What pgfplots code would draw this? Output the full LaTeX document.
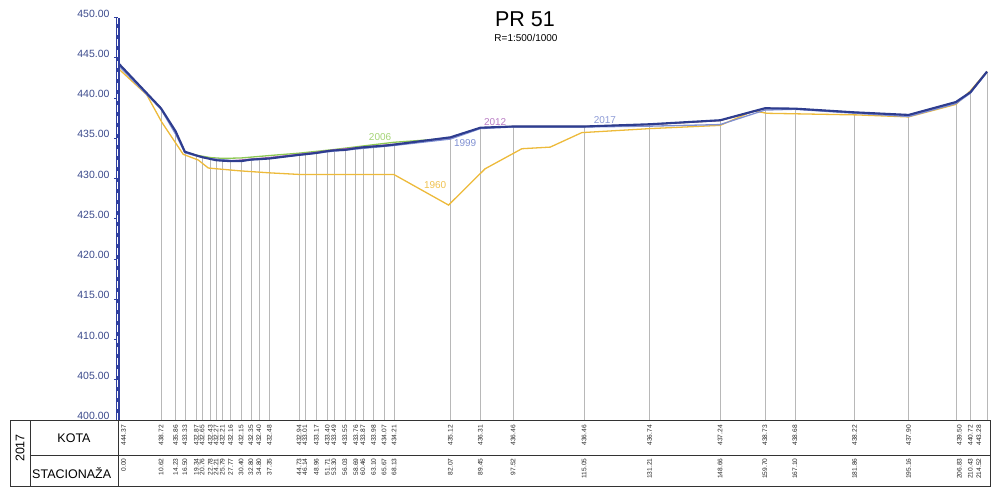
\documentclass[border=0pt]{standalone}
\usepackage{fontspec}
\setmainfont{Liberation Sans}
\usepackage{pgfplots}
\pgfplotsset{compat=1.18}
\usepackage{pgfplotstable}

\definecolor{navy17}{HTML}{2E3D8F}
\definecolor{blue99}{HTML}{8090D2}
\definecolor{purple12}{HTML}{A85CB5}
\definecolor{green06}{HTML}{8DC853}
\definecolor{yellow60}{HTML}{EDBA3A}
\definecolor{axblue}{HTML}{2F3FA0}
\definecolor{ticktext}{HTML}{3B4A8C}

% 2017 survey: station / elevation / label position
\pgfplotstableread{
sta kota lx
0.00 444.37 1.4
10.62 438.72 10.62
14.23 435.86 14.23
16.50 433.33 16.50
19.34 432.87 19.34
20.76 432.65 20.76
22.78 432.43 22.78
24.21 432.27 24.21
25.79 432.21 25.79
27.77 432.16 27.77
30.40 432.15 30.40
32.80 432.35 32.80
34.80 432.40 34.80
37.35 432.48 37.35
44.73 432.94 44.73
46.14 433.01 46.14
48.96 433.17 48.96
51.71 433.40 51.71
53.30 433.49 53.30
56.03 433.55 56.03
58.69 433.76 58.69
60.46 433.87 60.46
63.10 433.98 63.10
65.67 434.07 65.67
68.13 434.21 68.13
82.07 435.12 82.07
89.45 436.31 89.45
97.52 436.46 97.52
115.05 436.46 115.05
131.21 436.74 131.21
148.66 437.24 148.66
159.70 438.73 159.70
167.10 438.68 167.10
181.86 438.22 181.86
195.16 437.90 195.16
206.83 439.50 207.7
210.43 440.72 210.43
214.52 443.28 212.5
}\profileA

\pgfplotstableread{
sta kota
0.00 444.1
10.62 438.6
14.23 435.5
16.50 433.2
19.34 432.8
22.78 432.45
27.77 432.25
30.40 432.2
37.35 432.5
44.73 432.9
53.30 433.4
68.13 434.1
82.07 434.9
89.45 436.2
97.52 436.4
115.05 436.4
131.21 436.5
148.66 436.7
159.70 438.5
167.10 438.6
181.86 438.1
195.16 437.7
206.83 439.3
210.43 440.6
214.52 443.2
}\profileB

\pgfplotstableread{
sta kota
0.00 444.3
10.62 438.7
14.23 435.8
16.50 433.3
19.34 432.85
22.78 432.45
27.77 432.2
30.40 432.3
37.35 432.6
44.73 433.0
48.96 433.25
53.30 433.55
60.46 433.9
68.13 434.25
82.07 435.0
89.45 436.3
97.52 436.46
115.05 436.46
131.21 436.7
148.66 437.2
159.70 438.7
167.10 438.65
181.86 438.2
195.16 437.85
206.83 439.45
210.43 440.7
214.52 443.25
}\profileC

\pgfplotstableread{
sta kota
0.00 444.3
10.62 438.7
14.23 435.7
16.50 433.3
19.34 432.9
22.78 432.6
25.79 432.5
30.40 432.55
37.35 432.85
44.73 433.15
53.30 433.6
63.10 434.2
68.13 434.5
82.07 435.0
89.45 436.3
97.52 436.46
115.05 436.46
131.21 436.7
148.66 437.2
159.70 438.7
167.10 438.65
181.86 438.2
195.16 437.85
206.83 439.45
210.43 440.7
214.52 443.25
}\profileD

\pgfplotstableread{
sta kota
0.00 443.7
7.10 440.4
10.80 437.0
16.10 433.0
19.80 432.3
22.30 431.3
30.10 430.95
37.50 430.7
44.90 430.5
68.10 430.5
81.60 426.7
90.60 431.2
99.70 433.7
106.70 433.9
114.50 435.7
131.40 436.2
148.66 436.6
156.90 438.4
160.20 438.1
182.40 437.9
195.10 437.65
206.83 439.2
210.43 440.9
214.52 443.3
}\profileE

\begin{document}
\begin{tikzpicture}[x=1pt,y=1pt]
\begin{axis}[
    at={(0,0)}, anchor=south west,
    scale only axis,
    width=869pt, height=402.5pt,
    xmin=0, xmax=214.52,
    ymin=400, ymax=450,
    clip=false,
    hide x axis,
    axis y line*=left,
    y axis line style={draw=none},
    ytick={400,405,...,450},
    ytick pos=left,
    tick align=outside,
    major tick length=4pt,
    tick style={axblue, line width=0.9pt},
    /pgf/number format/fixed,
    /pgf/number format/fixed zerofill,
    /pgf/number format/precision=2,
    /pgf/number format/1000 sep={},
    /pgf/number format/assume math mode=true,
    yticklabel style={font=\fontsize{10.5}{12}\selectfont, text=ticktext, yshift=4pt, xshift=-1pt},
]
% station verticals, from the 2017 ground down to the table
\addplot[black!28, line width=0.6pt, mark=none, -,
    quiver={u=0, v=400-\thisrow{kota}}]
    table[x=sta, y=kota] {\profileA};

\addplot[yellow60, line width=1.3pt, mark=none] table[x=sta, y=kota] {\profileE};
\addplot[green06, line width=1.3pt, mark=none] table[x=sta, y=kota] {\profileD};
\addplot[purple12, line width=1.3pt, mark=none] table[x=sta, y=kota] {\profileC};
\addplot[blue99, line width=1.3pt, mark=none] table[x=sta, y=kota] {\profileB};
\addplot[navy17, line width=2.1pt, mark=none] table[x=sta, y=kota] {\profileA};

% KOTA row
\addplot[only marks, mark=none, nodes near coords, point meta=explicit symbolic,
    every node near coord/.append style={rotate=90, anchor=east, inner sep=0pt,
      font=\fontsize{6.6}{7}\selectfont, text=black!85}]
    table[x=lx, y expr=399.38, meta=kota] {\profileA};
% STACIONAZA row
\addplot[only marks, mark=none, nodes near coords, point meta=explicit symbolic,
    every node near coord/.append style={rotate=90, anchor=east, inner sep=0pt,
      font=\fontsize{6.6}{7}\selectfont, text=black!85}]
    table[x=lx, y expr=395.24, meta=sta] {\profileA};

\draw[axblue, line width=3.4pt] (axis cs:0,400) -- (axis cs:0,450);
\draw[white, line width=1pt, dash pattern=on 7pt off 4pt] (axis cs:0,400) -- (axis cs:0,450);

\node[font=\fontsize{10}{12}\selectfont, text=green06!80] at (axis cs:64.7,435.19) {2006};
\node[font=\fontsize{10}{12}\selectfont, text=blue99] at (axis cs:85.7,434.45) {1999};
\node[font=\fontsize{10}{12}\selectfont, text=purple12!80] at (axis cs:93.1,437.06) {2012};
\node[font=\fontsize{10}{12}\selectfont, text=blue99!90] at (axis cs:120.2,437.27) {2017};
\node[font=\fontsize{10}{12}\selectfont, text=yellow60!90] at (axis cs:78.3,429.19) {1960};
\end{axis}

% title
\node[font=\fontsize{21.5}{24}\selectfont] at (407,400.5) {PR 51};
\node[font=\fontsize{10}{12}\selectfont] at (408,382.5) {R=1:500/1000};

% data table frame
\draw[black!80, line width=0.8pt] (-108,-0.5) rectangle (872,-66);
\draw[black!80, line width=0.8pt] (-88,-35) -- (872,-35);
\draw[black!80, line width=0.8pt] (-88,-0.5) -- (-88,-66);
\draw[black!80, line width=0.8pt] (0,-0.5) -- (0,-66);
\node[rotate=90, font=\fontsize{12.5}{14}\selectfont] at (-98,-28) {2017};
\node[font=\fontsize{12.5}{14}\selectfont] at (-44,-18.3) {KOTA};
\node[font=\fontsize{12.5}{14}\selectfont] at (-46.3,-53.3) {STACIONAŽA};

\pgfresetboundingbox
\path[use as bounding box] (-118,-68) rectangle (883,420);
\end{tikzpicture}
\end{document}
